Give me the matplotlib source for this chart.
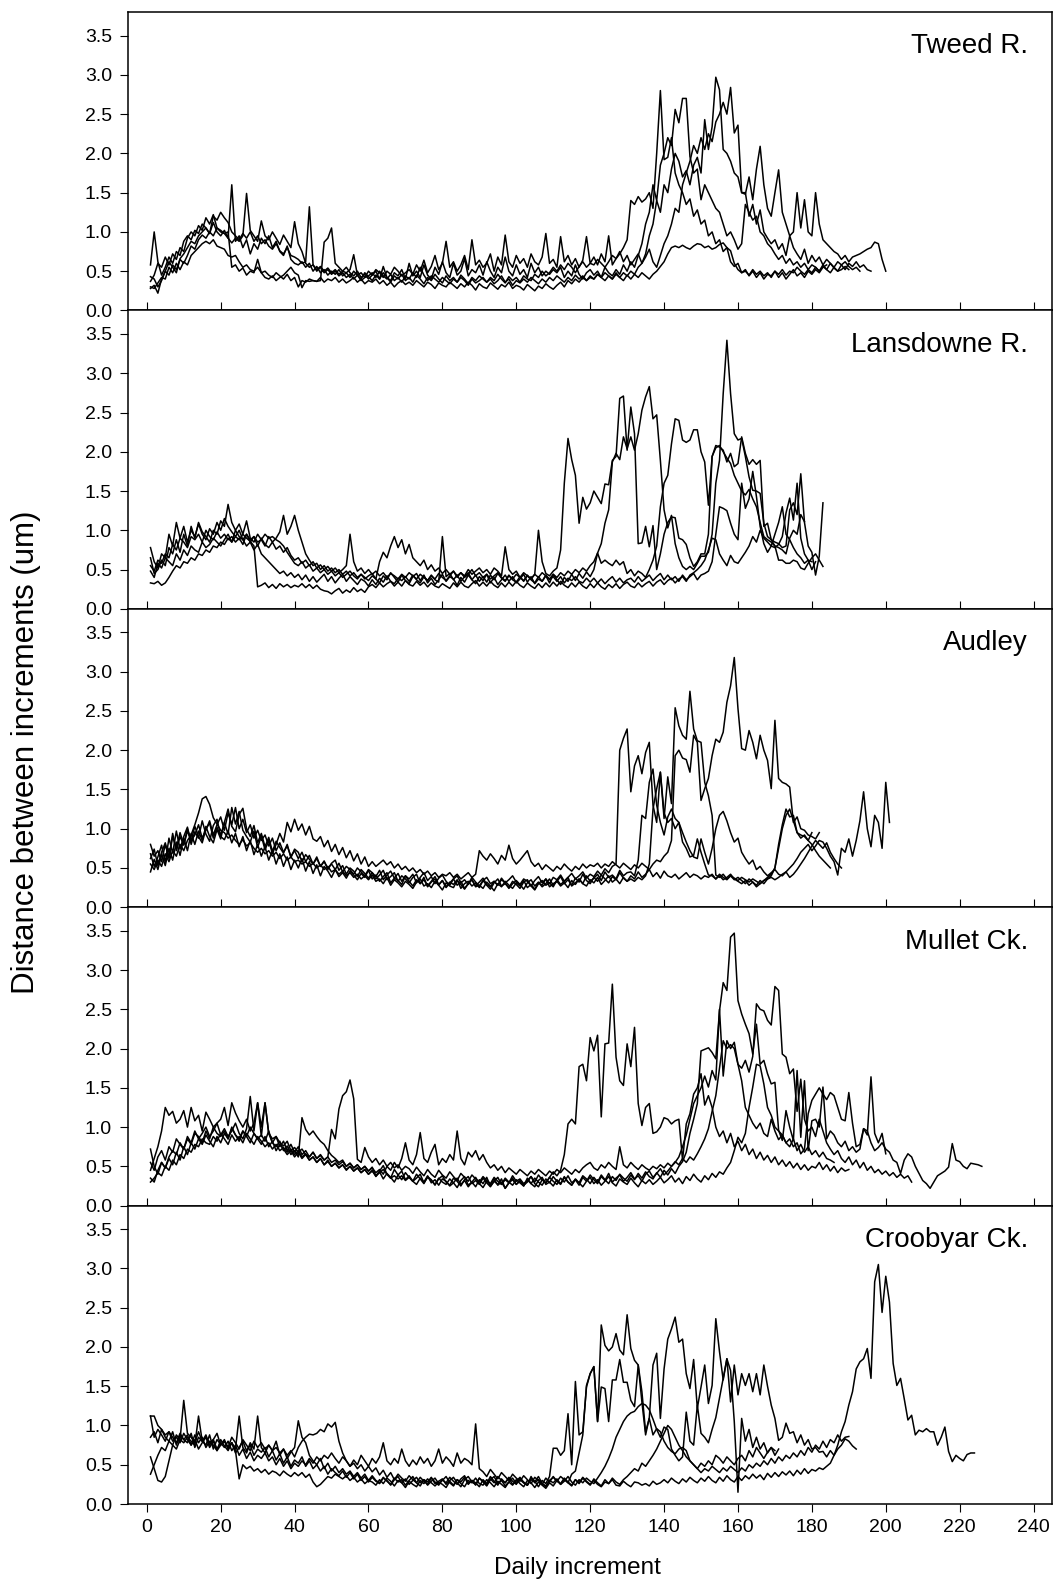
import numpy as np
import matplotlib
matplotlib.use("Agg")
import matplotlib.pyplot as plt

plt.rcParams['font.family'] = ['Liberation Sans', 'DejaVu Sans']

# distance between daily increments in hundredths of a um
# each list starts at daily increment 1

# Tweed R.
tweed_1 = [58, 100, 62, 45, 55, 68, 60, 75, 70, 88,
           95, 90, 102, 98, 110, 105, 98, 112, 100, 95,
           102, 92, 160, 88, 95, 80, 90, 72, 85, 78,
           92, 85, 95, 80, 88, 75, 70, 82, 65, 60,
           58, 62, 55, 60, 50, 56, 48, 52, 45, 50,
           46, 52, 44, 48, 42, 50, 45, 40, 48, 43,
           38, 45, 40, 48, 42, 36, 44, 40, 46, 38,
           42, 36, 45, 40, 34, 42, 38, 46, 40, 35,
           44, 38, 42, 36, 45, 40, 34, 42, 38, 44,
           40, 36, 42, 38, 46, 40, 35, 43, 38, 42,
           36, 44, 40, 38, 46, 42, 50, 44, 48, 55,
           50, 58, 52, 60, 55, 48, 56, 62, 55, 60,
           58, 65, 60, 55, 62, 70, 66, 72, 80, 90,
           140, 135, 145, 138, 142, 150, 130, 200, 280, 192,
           195, 220, 175, 160, 150, 135, 142, 120, 128, 110,
           115, 95, 100, 85, 90, 75, 80, 62, 56, 60,
           48, 52, 44, 50, 42, 48, 40, 46, 44, 50,
           42, 48, 40, 46, 52, 44, 48, 42, 50, 46,
           52, 48, 55, 58]
tweed_2 = [43, 40, 30, 38, 50, 62, 55, 48, 66, 72,
           80, 88, 85, 95, 100, 105, 98, 120, 115, 125,
           118, 112, 100, 95, 90, 98, 92, 100, 88, 95,
           85, 90, 82, 78, 85, 76, 72, 80, 70, 68,
           65, 60, 62, 132, 58, 50, 55, 48, 52, 46,
           50, 44, 48, 42, 46, 40, 45, 38, 42, 44,
           48, 42, 50, 44, 40, 46, 38, 42, 36, 44,
           40, 48, 42, 55, 45, 38, 44, 40, 36, 42,
           38, 34, 40, 36, 42, 38, 32, 40, 35, 38,
           42, 36, 40, 34, 38, 44, 36, 40, 32, 38,
           35, 40, 36, 42, 38, 34, 40, 36, 42, 38,
           44, 40, 36, 42, 38, 45, 40, 44, 38, 42,
           40, 46, 42, 48, 44, 40, 46, 42, 48, 44,
           50, 46, 55, 60, 72, 95, 110, 140, 125, 160,
           150, 180, 200, 190, 170, 178, 160, 185, 195, 175,
           243, 205, 234, 297, 281, 205, 200, 190, 175, 170,
           150, 150, 120, 135, 110, 128, 100, 92, 85, 90,
           78, 85, 70, 95, 80, 72, 65, 78, 60, 70,
           62, 68, 58, 65, 60, 55, 62, 58, 52, 60,
           56, 62, 55, 58, 52, 50]
tweed_3 = [37, 45, 60, 55, 68, 58, 72, 65, 80, 75,
           92, 100, 95, 108, 102, 118, 110, 122, 105, 100,
           98, 92, 86, 92, 88, 95, 149, 102, 95, 88,
           114, 95, 90, 100, 92, 84, 96, 88, 80, 113,
           85, 75, 60, 55, 58, 52, 56, 50, 54, 48,
           52, 46, 50, 55, 48, 44, 50, 42, 46, 40,
           45, 50, 40, 56, 42, 38, 48, 44, 52, 40,
           60, 44, 50, 42, 58, 45, 40, 55, 46, 62,
           48, 42, 60, 45, 50, 66, 44, 52, 48, 58,
           45, 62, 50, 42, 55, 48, 68, 50, 44, 58,
           46, 52, 42, 60, 48, 55, 44, 50, 46, 52,
           48, 55, 42, 50, 44, 58, 46, 40, 48, 52,
           45, 50, 42, 55, 48, 44, 52, 46, 58, 50,
           62, 55, 70, 85, 110, 125, 160, 140, 185, 200,
           220, 210, 256, 239, 270, 270, 196, 175, 180, 141,
           160, 150, 140, 130, 125, 110, 95, 100, 90, 78,
           85, 135, 125, 115, 120, 100, 95, 85, 80, 72,
           65, 70, 60, 66, 58, 62, 55, 60, 52, 58,
           55, 50, 56, 52, 60, 54, 50, 58, 62, 56,
           52, 55, 50]
tweed_4 = [30, 28, 35, 42, 40, 55, 48, 60, 52, 62,
           58, 70, 75, 80, 85, 88, 85, 90, 82, 80,
           78, 70, 68, 70, 62, 55, 58, 52, 50, 55,
           48, 50, 45, 42, 48, 44, 40, 46, 38, 42,
           30, 38, 36, 40, 38, 37, 42, 36, 40, 38,
           42, 36, 40, 35, 38, 42, 36, 40, 34, 38,
           36, 40, 34, 38, 32, 36, 30, 35, 38, 33,
           36, 32, 38, 34, 30, 36, 33, 28, 35, 32,
           30, 36, 32, 28, 34, 30, 36, 32, 26, 34,
           30, 28, 35, 31, 27, 33, 30, 36, 28, 32,
           30, 26, 33, 29, 25, 31, 28, 34, 30, 27,
           32, 36, 30, 38, 34, 40, 36, 42, 38, 44,
           40, 46, 42, 38, 44, 40, 48, 42, 38, 45,
           40, 46, 42, 48, 44, 40, 46, 50, 56, 62,
           72, 80, 82, 80, 83, 80, 78, 82, 85, 84,
           80, 82, 78, 80, 84, 86, 80, 76, 60, 52,
           48, 50, 45, 52, 46, 50, 44, 48, 42, 50,
           46, 52, 45, 50, 48, 55, 50, 46, 52, 48,
           55, 50, 58, 52, 48, 55, 50, 52, 56, 52]
tweed_5 = [28, 32, 22, 40, 50, 45, 58, 52, 65, 60,
           70, 82, 78, 90, 96, 92, 100, 95, 105, 102,
           98, 100, 55, 58, 50, 54, 45, 50, 48, 65,
           48, 42, 40, 44, 38, 42, 45, 50, 55, 48,
           45, 29, 38, 37, 38, 37, 38, 87, 92, 105,
           60, 55, 50, 48, 52, 71, 45, 48, 42, 50,
           45, 52, 48, 42, 50, 46, 55, 50, 44, 48,
           52, 46, 58, 50, 64, 48, 56, 70, 52, 60,
           88, 55, 62, 50, 58, 70, 52, 90, 58, 64,
           55, 60, 72, 50, 68, 58, 96, 62, 55, 70,
           60, 66, 55, 72, 62, 58, 68, 98, 60, 65,
           55, 94, 62, 70, 58, 66, 55, 64, 94, 60,
           68, 58, 72, 62, 95, 58, 66, 75, 62, 70,
           58, 65, 72, 60, 68, 78, 62, 55, 70, 85,
           95, 110, 130, 125, 160, 175, 190, 210, 200, 220,
           205, 225, 215, 240, 250, 265, 250, 284, 226, 236,
           150, 148, 170, 141, 180, 209, 160, 130, 120, 150,
           179, 125, 110, 95, 100, 150, 105, 141, 100, 95,
           150, 110, 90, 85, 80, 75, 72, 65, 70, 62,
           68, 70, 72, 75, 78, 80, 87, 85, 65, 50]

# Lansdowne R.
lans_1 = [78, 60, 52, 70, 65, 95, 80, 110, 90, 105,
          85, 100, 92, 108, 95, 88, 102, 95, 110, 100,
          115, 105, 98, 92, 100, 88, 95, 85, 92, 80,
          90, 82, 78, 85, 76, 80, 72, 78, 68, 62,
          65, 58, 62, 55, 60, 52, 56, 50, 54, 48,
          52, 46, 50, 55, 95, 60, 48, 52, 45, 50,
          44, 48, 42, 46, 40, 45, 42, 38, 44, 40,
          46, 42, 38, 44, 40, 36, 42, 38, 45, 40,
          36, 42, 48, 40, 46, 42, 50, 44, 48, 52,
          46, 50, 44, 52, 48, 42, 79, 50, 44, 48,
          40, 46, 42, 38, 44, 100, 60, 45, 42, 48,
          52, 75, 160, 217, 190, 170, 109, 142, 127, 135,
          150, 142, 134, 159, 158, 189, 194, 268, 271, 202,
          257, 223, 83, 84, 105, 79, 106, 50, 70, 95,
          110, 117, 116, 90, 88, 82, 65, 54, 60, 70,
          70, 95, 194, 205, 208, 200, 192, 185, 170, 160,
          150, 145, 152, 140, 130, 110, 92, 88, 85, 80,
          78, 75, 70, 90, 100, 95, 120, 111]
lans_2 = [65, 45, 50, 62, 55, 78, 70, 88, 72, 95,
          80, 105, 90, 110, 98, 92, 85, 100, 95, 112,
          105, 133, 110, 100, 108, 95, 112, 90, 85, 95,
          88, 80, 92, 85, 90, 98, 119, 95, 105, 119,
          100, 85, 70, 62, 55, 58, 50, 55, 48, 52,
          46, 50, 44, 48, 42, 46, 40, 44, 38, 42,
          45, 38, 33, 42, 37, 46, 40, 34, 43, 36,
          32, 41, 45, 36, 43, 33, 39, 31, 37, 44,
          35, 41, 38, 30, 40, 34, 43, 37, 32, 41,
          36, 44, 33, 40, 31, 37, 43, 35, 41, 33,
          38, 44, 34, 41, 32, 38, 35, 42, 33, 44,
          37, 31, 40, 35, 44, 36, 45, 39, 47, 41,
          50, 71, 83, 109, 126, 187, 198, 190, 219, 204,
          219, 202, 223, 253, 270, 283, 242, 247, 189, 126,
          103, 119, 83, 65, 54, 50, 54, 50, 58, 67,
          67, 72, 95, 160, 189, 274, 342, 274, 223, 215,
          217, 194, 168, 151, 150, 147, 109, 92, 88, 85,
          83, 78, 80, 126, 135, 120, 172, 110, 80, 72,
          43, 67, 135]
lans_3 = [55, 48, 62, 58, 70, 65, 82, 75, 90, 85,
          78, 92, 88, 95, 85, 100, 92, 88, 98, 90,
          95, 88, 92, 85, 90, 82, 95, 88, 92, 85,
          88, 95, 90, 92, 88, 85, 80, 72, 65, 58,
          55, 60, 52, 56, 48, 52, 46, 50, 44, 48,
          42, 46, 40, 44, 48, 42, 38, 44, 40, 36,
          42, 38, 60, 72, 65, 80, 92, 78, 88, 70,
          82, 65, 60, 55, 62, 50, 56, 48, 52, 45,
          50, 44, 48, 42, 46, 40, 44, 50, 42, 46,
          40, 44, 38, 42, 46, 40, 36, 42, 38, 44,
          40, 36, 42, 38, 44, 40, 46, 42, 38, 44,
          40, 46, 42, 48, 44, 50, 46, 52, 48, 55,
          60, 71, 58, 62, 58, 55, 62, 56, 60, 45,
          50, 42, 48, 45, 40, 50, 62, 80, 130, 160,
          170, 210, 242, 240, 215, 212, 215, 228, 228, 200,
          187, 132, 194, 208, 206, 202, 187, 198, 181, 185,
          219, 198, 184, 190, 184, 189, 105, 109, 88, 80,
          62, 62, 58, 58, 62, 60, 52, 50, 58, 65,
          70, 62, 54]
lans_4 = [48, 40, 58, 52, 65, 60, 55, 70, 62, 75,
          68, 80, 75, 72, 85, 78, 82, 90, 85, 80,
          88, 95, 85, 100, 92, 88, 80, 85, 75, 82,
          70, 65, 60, 55, 50, 45, 48, 42, 46, 40,
          44, 37, 43, 35, 41, 34, 39, 44, 35, 41,
          33, 39, 44, 35, 41, 36, 31, 38, 35, 29,
          37, 31, 39, 34, 42, 35, 32, 39, 36, 41,
          35, 43, 37, 33, 41, 36, 43, 37, 34, 92,
          41, 45, 37, 43, 35, 41, 46, 37, 43, 35,
          41, 34, 43, 37, 45, 39, 35, 43, 37, 34,
          41, 35, 43, 37, 33, 41, 35, 43, 37, 41,
          35, 41, 33, 39, 36, 41, 35, 33, 39, 34,
          39, 33, 38, 32, 37, 41, 34, 39, 33, 37,
          39, 34, 41, 35, 39, 43, 36, 41, 45, 37,
          43, 37, 41, 35, 43, 37, 41, 45, 37, 43,
          45, 48, 60, 95, 130, 128, 125, 109, 95, 88,
          160, 128, 140, 175, 143, 105, 83, 72, 80, 78,
          82, 92, 122, 141, 113, 160, 90, 70, 62, 50,
          60]
lans_5 = [33, 32, 35, 30, 33, 40, 48, 55, 52, 60,
          58, 65, 62, 70, 68, 75, 72, 80, 78, 85,
          82, 90, 85, 92, 88, 95, 90, 86, 80, 28,
          30, 33, 27, 31, 26, 32, 28, 31, 27, 30,
          28, 32, 27, 31, 26, 30, 25, 23, 22, 19,
          23, 26, 20, 24, 21, 27, 22, 25, 21, 28,
          31, 27, 33, 28, 32, 35, 29, 34, 29, 36,
          31, 29, 35, 30, 34, 28, 33, 29, 27, 32,
          29, 26, 33, 28, 34, 29, 27, 32, 36, 29,
          34, 29, 35, 30, 27, 33, 28, 34, 29, 35,
          30, 27, 33, 29, 26, 32, 27, 33, 28, 34,
          29, 35, 30, 27, 33, 28, 34, 29, 26, 32,
          27, 33, 28, 25, 31, 27, 32, 26, 31, 34,
          29, 27, 33, 28, 32, 35, 29, 34, 37, 31,
          36, 39, 33, 38, 41, 35, 43, 46, 50, 55,
          62, 75, 90, 88, 70, 62, 55, 68, 60, 58,
          65, 72, 80, 92, 85, 100, 90, 85, 80, 95,
          110, 130, 95, 88, 78, 70, 65, 58, 62, 60]

# Audley
aud_1 = [80, 65, 72, 58, 80, 62, 90, 75, 95, 80,
         100, 85, 92, 105, 88, 98, 110, 92, 105, 115,
         98, 120, 105, 127, 100, 112, 95, 105, 88, 98,
         85, 92, 78, 88, 72, 82, 70, 78, 65, 72,
         62, 70, 58, 66, 55, 62, 52, 58, 50, 55,
         48, 56, 45, 52, 48, 42, 50, 45, 40, 48,
         44, 39, 47, 35, 41, 46, 37, 43, 33, 40,
         36, 42, 31, 38, 44, 34, 39, 30, 37, 41,
         33, 28, 36, 40, 31, 35, 29, 38, 32, 27,
         34, 38, 30, 33, 28, 37, 31, 35, 40, 32,
         29, 36, 33, 27, 34, 39, 31, 36, 30, 38,
         35, 41, 33, 38, 43, 36, 40, 45, 37, 42,
         39, 46, 41, 49, 44, 52, 55, 200, 215, 227,
         147, 180, 193, 170, 197, 210, 130, 108, 172, 120,
         108, 113, 100, 108, 83, 75, 64, 66, 87, 70,
         55, 41, 40, 36, 42, 38, 35, 40, 37, 34,
         38, 35, 32, 36, 33, 30, 34, 38, 42, 50,
         80, 105, 125, 115, 117, 95, 92, 90, 85, 80,
         72, 65, 60, 55, 50]
aud_2 = [68, 52, 64, 79, 57, 88, 69, 97, 74, 90,
         102, 80, 96, 88, 110, 93, 84, 104, 112, 91,
         108, 125, 103, 96, 118, 126, 100, 90, 104, 82,
         94, 77, 89, 71, 84, 76, 69, 80, 63, 74,
         70, 58, 67, 61, 55, 64, 52, 59, 48, 56,
         60, 47, 53, 42, 50, 46, 39, 48, 43, 37,
         44, 36, 41, 47, 35, 39, 44, 33, 40, 36,
         31, 38, 42, 30, 35, 27, 33, 39, 29, 34,
         26, 32, 29, 35, 24, 30, 33, 27, 31, 25,
         34, 28, 23, 31, 36, 27, 30, 25, 33, 29,
         24, 32, 35, 27, 22, 30, 34, 28, 31, 26,
         35, 29, 33, 38, 27, 31, 36, 30, 40, 33,
         37, 42, 34, 45, 38, 41, 36, 47, 40, 44,
         45, 40, 60, 117, 113, 159, 176, 130, 108, 92,
         115, 125, 113, 108, 95, 83, 72, 64, 62, 87,
         70, 55, 75, 100, 117, 122, 110, 95, 83, 88,
         70, 62, 55, 60, 48, 52, 45, 40, 44, 48,
         42, 40, 45, 38, 42, 48, 55, 62, 70, 78,
         85, 80, 75, 82, 70, 62, 55, 50]
aud_3 = [55, 48, 60, 52, 68, 58, 72, 65, 80, 72,
         85, 92, 105, 120, 138, 141, 131, 114, 106, 98,
         95, 88, 92, 85, 80, 86, 78, 82, 75, 70,
         75, 68, 72, 65, 70, 62, 68, 60, 64, 58,
         60, 55, 58, 52, 56, 50, 54, 48, 52, 45,
         48, 42, 46, 40, 44, 38, 42, 36, 40, 35,
         41, 33, 36, 30, 38, 28, 35, 31, 26, 33,
         29, 24, 32, 36, 27, 30, 25, 33, 28, 22,
         31, 27, 25, 34, 29, 23, 30, 35, 26, 28,
         24, 32, 27, 21, 30, 26, 33, 28, 24, 31,
         27, 34, 25, 29, 23, 31, 28, 36, 26, 30,
         33, 27, 31, 25, 34, 29, 36, 30, 27, 35,
         31, 38, 29, 34, 40, 32, 36, 30, 38, 33,
         36, 33, 38, 35, 40, 55, 125, 151, 172, 113,
         166, 132, 254, 231, 219, 214, 275, 227, 212, 210,
         159, 142, 117, 41, 38, 42, 36, 40, 35, 38,
         34, 30, 36, 32, 28, 34, 30, 36, 40, 50,
         75, 100, 117, 125, 110, 95, 88, 92, 85, 95]
aud_4 = [45, 61, 48, 67, 53, 75, 60, 83, 66, 88,
         72, 94, 80, 97, 85, 103, 90, 82, 99, 87,
         108, 93, 127, 106, 122, 98, 90, 83, 97, 76,
         91, 73, 85, 68, 80, 94, 83, 108, 96, 112,
         98, 106, 92, 103, 87, 84, 90, 77, 85, 71,
         80, 67, 76, 63, 72, 59, 68, 55, 64, 52,
         58, 52, 56, 60, 54, 58, 50, 55, 48, 52,
         46, 50, 44, 48, 42, 46, 40, 44, 38, 42,
         40, 44, 38, 42, 36, 40, 44, 38, 42, 72,
         65, 60, 68, 62, 55, 66, 60, 79, 62, 55,
         60, 66, 72, 58, 52, 56, 48, 54, 50, 46,
         52, 48, 55, 50, 46, 52, 48, 55, 50, 54,
         52, 56, 50, 55, 52, 58, 54, 50, 56, 52,
         48, 54, 50, 56, 52, 48, 55, 60, 58, 65,
         70, 85, 193, 200, 190, 188, 172, 219, 210, 136,
         151, 164, 193, 214, 210, 223, 261, 282, 318, 253,
         202, 200, 225, 210, 189, 219, 200, 187, 151, 238,
         164, 159, 157, 153, 108, 115, 100, 98, 92, 90,
         87, 95]
aud_5 = [62, 74, 53, 70, 82, 63, 94, 72, 90, 79,
         97, 85, 103, 90, 82, 100, 107, 88, 102, 90,
         86, 97, 82, 94, 77, 90, 72, 85, 67, 80,
         65, 77, 60, 72, 55, 68, 52, 64, 48, 60,
         50, 62, 46, 58, 43, 54, 40, 52, 46, 38,
         48, 39, 44, 37, 46, 41, 35, 43, 38, 47,
         36, 41, 33, 39, 44, 31, 37, 34, 29, 40,
         33, 27, 35, 30, 38, 26, 32, 36, 28, 34,
         25, 31, 36, 28, 33, 24, 30, 35, 27, 32,
         37, 29, 26, 33, 28, 35, 31, 24, 30, 34,
         29, 23, 31, 35, 27, 32, 26, 30, 36, 28,
         33, 39, 30, 35, 28, 37, 32, 42, 34, 30,
         38, 33, 41, 36, 31, 39, 35, 44, 37, 33,
         40, 36, 45, 38, 42, 48, 39, 44, 37, 46,
         40, 38, 42, 36, 40, 44, 38, 42, 40, 36,
         40, 38, 42, 36, 40, 35, 38, 42, 36, 33,
         30, 34, 28, 32, 26, 30, 34, 36, 38, 35,
         38, 42, 45, 50, 55, 62, 70, 75, 80, 72,
         78, 85, 83, 75, 65, 58, 41, 75, 70, 87,
         65, 85, 110, 147, 100, 77, 117, 108, 75, 159,
         108]

# Mullet Ck.
mul_1 = [35, 30, 45, 55, 48, 62, 70, 65, 80, 72,
         85, 78, 92, 88, 80, 95, 85, 100, 92, 88,
         95, 85, 100, 90, 82, 95, 88, 80, 92, 85,
         78, 88, 75, 82, 70, 78, 72, 65, 70, 62,
         68, 60, 65, 58, 62, 55, 60, 52, 58, 50,
         54, 48, 52, 46, 50, 44, 48, 42, 46, 40,
         45, 37, 43, 34, 41, 36, 30, 39, 44, 33,
         38, 31, 35, 40, 29, 36, 32, 27, 34, 38,
         30, 26, 35, 31, 25, 33, 37, 28, 32, 27,
         35, 29, 24, 31, 36, 27, 33, 29, 38, 31,
         34, 28, 32, 37, 30, 39, 33, 29, 36, 43,
         38, 45, 65, 104, 110, 104, 177, 180, 159, 214,
         197, 217, 113, 206, 207, 282, 189, 159, 153, 206,
         177, 227, 130, 102, 125, 130, 92, 94, 100, 112,
         110, 104, 108, 110, 58, 104, 117, 142, 150, 168,
         128, 140, 125, 100, 88, 95, 80, 92, 75, 82,
         70, 78, 65, 72, 60, 68, 58, 64, 55, 62,
         52, 58, 50, 56, 48, 54, 46, 52, 45, 50,
         48, 55, 46, 52, 44, 50, 42, 48, 44, 46]
mul_2 = [55, 45, 62, 70, 58, 75, 68, 85, 78, 72,
         88, 80, 95, 85, 92, 100, 88, 95, 105, 90,
         98, 88, 95, 105, 92, 85, 98, 139, 95, 131,
         88, 131, 92, 80, 88, 75, 82, 70, 78, 68,
         75, 65, 70, 62, 68, 60, 65, 58, 62, 97,
         85, 123, 140, 145, 160, 136, 59, 55, 74, 62,
         55, 60, 52, 58, 50, 55, 48, 52, 45, 50,
         47, 41, 49, 43, 38, 46, 40, 36, 45, 39,
         35, 43, 37, 32, 41, 36, 31, 39, 34, 30,
         37, 32, 28, 36, 31, 27, 35, 30, 26, 33,
         29, 25, 33, 28, 35, 30, 26, 34, 29, 37,
         31, 27, 36, 30, 26, 33, 29, 38, 34, 28,
         36, 30, 39, 33, 28, 37, 32, 40, 35, 31,
         39, 33, 41, 35, 43, 37, 34, 42, 36, 45,
         39, 47, 41, 50, 56, 68, 92, 110, 130, 197,
         199, 201, 195, 187, 248, 284, 274, 342, 347, 261,
         244, 231, 219, 193, 231, 180, 185, 168, 155, 157,
         96, 83, 121, 100, 83, 172, 87, 159, 70, 108,
         110, 100, 151, 85, 95, 90, 80, 75, 82, 70,
         75, 68, 72, 98, 90, 164, 92, 80, 92, 66]
mul_3 = [72, 50, 40, 55, 48, 60, 52, 68, 58, 75,
         65, 80, 72, 85, 78, 90, 82, 75, 88, 80,
         92, 85, 98, 90, 85, 95, 88, 100, 92, 85,
         90, 82, 95, 80, 75, 82, 70, 76, 65, 70,
         62, 112, 97, 90, 95, 88, 82, 78, 70, 64,
         60, 55, 58, 50, 54, 48, 52, 46, 50, 44,
         48, 42, 46, 40, 50, 45, 55, 48, 60, 80,
         58, 52, 65, 93, 60, 55, 68, 78, 52, 60,
         55, 65, 58, 95, 60, 52, 68, 62, 70, 58,
         65, 55, 48, 52, 45, 50, 42, 48, 44, 40,
         46, 42, 38, 44, 40, 46, 42, 38, 44, 40,
         46, 42, 48, 44, 40, 46, 42, 48, 52, 55,
         48, 45, 52, 48, 55, 50, 46, 75, 52, 48,
         55, 50, 46, 52, 48, 45, 50, 47, 52, 48,
         54, 50, 56, 52, 60, 55, 62, 58, 66, 75,
         85, 98, 120, 140, 175, 210, 200, 205, 200, 180,
         175, 185, 170, 190, 257, 250, 248, 236, 230, 279,
         274, 193, 189, 168, 174, 120, 161, 110, 95, 100,
         88, 110, 95, 80, 72, 65, 70, 60, 55, 62,
         52, 58, 48, 55, 45, 50, 42, 46, 40, 44,
         38, 42, 36, 40, 35, 38, 30]
mul_4 = [45, 60, 75, 95, 125, 115, 120, 105, 110, 121,
         100, 125, 108, 115, 95, 119, 110, 100, 105, 110,
         125, 102, 131, 118, 108, 100, 110, 95, 105, 131,
         100, 131, 92, 85, 88, 80, 76, 82, 70, 74,
         68, 72, 65, 62, 68, 60, 64, 58, 62, 55,
         58, 52, 56, 50, 54, 48, 52, 46, 50, 44,
         49, 38, 44, 51, 40, 35, 46, 39, 33, 42,
         36, 31, 40, 34, 28, 37, 33, 26, 35, 30,
         27, 34, 29, 23, 32, 37, 26, 30, 24, 33,
         28, 36, 25, 31, 27, 34, 22, 29, 35, 27,
         32, 26, 30, 37, 28, 24, 33, 29, 36, 31,
         27, 35, 30, 38, 29, 33, 26, 36, 31, 39,
         33, 28, 37, 32, 41, 30, 35, 39, 31, 36,
         42, 34, 38, 31, 40, 44, 36, 41, 47, 39,
         44, 50, 55, 62, 75, 90, 110, 130, 140, 150,
         165, 151, 172, 160, 250, 165, 210, 200, 208, 180,
         159, 125, 115, 105, 98, 105, 92, 88, 110, 95,
         84, 90, 80, 75, 85, 70, 78, 68, 75, 65,
         70, 62, 68, 60, 58, 55]
mul_5 = [30, 35, 42, 38, 50, 45, 58, 52, 65, 60,
         72, 68, 78, 75, 85, 80, 78, 88, 82, 92,
         85, 78, 90, 82, 88, 80, 92, 85, 78, 88,
         82, 75, 80, 72, 78, 70, 74, 68, 72, 65,
         70, 62, 66, 58, 62, 55, 60, 52, 56, 50,
         54, 48, 52, 45, 50, 44, 48, 42, 46, 40,
         44, 38, 42, 46, 40, 35, 38, 34, 38, 32,
         36, 31, 27, 35, 30, 38, 29, 33, 26, 34,
         31, 25, 29, 35, 27, 32, 24, 30, 36, 28,
         23, 31, 27, 34, 26, 30, 22, 29, 33, 27,
         31, 25, 35, 28, 24, 32, 36, 27, 30, 25,
         33, 28, 37, 30, 26, 34, 29, 24, 31, 36,
         28, 33, 26, 31, 37, 29, 25, 34, 30, 27,
         35, 29, 24, 32, 28, 33, 27, 31, 36, 29,
         33, 38, 30, 35, 28, 37, 32, 40, 34, 30,
         38, 33, 41, 36, 43, 40, 48, 55, 70, 87,
         80, 92, 125, 151, 180, 178, 155, 125, 115, 100,
         95, 90, 80, 85, 75, 80, 66, 72, 117, 134,
         142, 150, 142, 135, 144, 140, 125, 110, 108, 144,
         105, 75, 78, 98, 95, 80, 70, 74, 80, 72,
         68, 58, 55, 41, 58, 66, 62, 50, 41, 32,
         28, 22, 30, 38, 41, 44, 49, 79, 58, 56,
         50, 47, 54, 53, 52, 50]

# Croobyar Ck.
croo_1 = [112, 112, 100, 95, 88, 92, 80, 85, 78, 90,
          82, 75, 88, 78, 85, 72, 80, 75, 68, 82,
          74, 68, 78, 70, 112, 72, 65, 78, 70, 112,
          72, 65, 75, 68, 80, 62, 70, 58, 66, 72,
          106, 85, 78, 62, 55, 50, 58, 45, 52, 42,
          48, 40, 45, 38, 42, 35, 40, 33, 38, 30,
          36, 30, 27, 34, 29, 25, 33, 28, 31, 24,
          30, 35, 27, 23, 31, 28, 34, 26, 29, 32,
          25, 30, 34, 27, 22, 31, 35, 28, 25, 33,
          29, 24, 32, 27, 35, 30, 23, 28, 33, 26,
          31, 27, 24, 33, 29, 22, 30, 26, 35, 71,
          71, 62, 68, 115, 50, 156, 88, 92, 149, 166,
          175, 105, 228, 202, 195, 200, 217, 196, 190, 241,
          198, 183, 177, 143, 92, 109, 88, 96, 92, 80,
          72, 67, 64, 70, 72, 68, 55, 50, 45, 52,
          48, 55, 50, 62, 58, 52, 60, 55, 50, 58,
          62, 55, 68, 60, 72, 65, 58, 66, 72, 62,
          70]
croo_2 = [112, 85, 95, 88, 80, 92, 85, 78, 90, 82,
          88, 75, 82, 70, 78, 85, 72, 80, 68, 75,
          82, 70, 78, 65, 72, 80, 68, 75, 62, 70,
          66, 72, 60, 68, 56, 64, 52, 60, 48, 56,
          52, 60, 48, 55, 45, 50, 42, 48, 38, 45,
          40, 36, 42, 34, 40, 32, 38, 30, 35, 28,
          34, 29, 26, 33, 30, 24, 31, 35, 27, 32,
          25, 30, 34, 27, 31, 24, 29, 33, 26, 30,
          35, 27, 23, 31, 28, 34, 25, 30, 27, 22,
          31, 26, 35, 29, 24, 32, 27, 34, 29, 25,
          33, 28, 24, 35, 27, 31, 26, 22, 30, 34,
          29, 35, 31, 27, 38, 42, 65, 88, 151, 166,
          175, 105, 149, 147, 105, 158, 158, 184, 155, 155,
          132, 124, 177, 130, 88, 110, 177, 192, 109, 172,
          210, 223, 238, 206, 210, 166, 147, 184, 122, 149,
          177, 128, 151, 236, 194, 158, 185, 130, 177, 139,
          166, 151, 166, 143, 166, 139, 177, 150, 126, 109,
          81, 85, 103, 90, 92, 78, 88, 75, 82, 70,
          72, 66, 67, 60, 68, 62, 70, 75, 83, 80,
          74, 70]
croo_3 = [60, 45, 30, 28, 35, 55, 75, 70, 82, 78,
          85, 80, 75, 112, 80, 85, 78, 82, 90, 75,
          80, 72, 85, 78, 70, 82, 75, 68, 80, 72,
          78, 70, 75, 68, 72, 65, 70, 62, 68, 60,
          72, 80, 85, 89, 88, 90, 95, 92, 102, 98,
          104, 80, 65, 55, 48, 52, 45, 50, 42, 48,
          41, 46, 37, 43, 34, 40, 31, 38, 33, 29,
          36, 31, 27, 34, 29, 25, 33, 28, 24, 31,
          27, 34, 29, 25, 32, 36, 27, 30, 24, 33,
          28, 23, 31, 35, 26, 30, 27, 33, 25, 29,
          34, 27, 24, 31, 28, 35, 26, 23, 30, 27,
          32, 25, 29, 35, 28, 24, 31, 27, 33, 29,
          26, 33, 40, 48, 58, 70, 85, 95, 105, 112,
          116, 118, 124, 128, 126, 120, 108, 95, 85, 98,
          95, 70, 62, 55, 60, 117, 80, 75, 126, 90,
          85, 78, 95, 110, 135, 160, 185, 170, 105, 15,
          109, 80, 95, 72, 85, 70, 78, 65, 72, 68]
croo_4 = [38, 50, 62, 72, 68, 80, 75, 88, 82, 132,
          90, 85, 78, 92, 80, 88, 75, 82, 70, 78,
          72, 80, 68, 75, 62, 70, 58, 66, 55, 62,
          58, 65, 55, 60, 50, 58, 48, 55, 45, 52,
          48, 55, 50, 58, 52, 60, 55, 62, 58, 65,
          58, 52, 60, 55, 48, 56, 50, 62, 55, 48,
          58, 52, 60, 78, 55, 50, 58, 52, 70, 55,
          48, 56, 50, 60, 52, 58, 48, 55, 70, 52,
          60, 55, 48, 65, 52, 58, 55, 50, 102, 45,
          41, 35, 44, 38, 32, 40, 35, 30, 38, 33,
          29, 36, 31, 26, 34, 30, 25, 33, 28, 35,
          29, 26, 33, 28, 24, 31, 27, 34, 29, 25,
          30, 25, 22, 28, 26, 31, 24, 23, 29, 25,
          22, 28, 27, 24, 26, 23, 29, 25, 27, 31,
          27, 33, 29, 26, 32, 28, 34, 30, 27, 33,
          29, 35, 30, 27, 34, 29, 36, 31, 28, 35,
          30, 36, 32, 38, 33, 37, 31, 39, 34, 40,
          35, 41, 37, 42, 36, 43, 38, 45, 39, 44,
          42, 46, 44, 48, 52, 62, 75, 92, 105, 126,
          143, 172, 181, 185, 198, 160, 283, 305, 244, 290,
          257, 179, 151, 160, 134, 107, 113, 88, 94, 92,
          96, 92, 92, 75, 85, 98, 67, 54, 62, 58,
          55, 63, 65, 65]
croo_5 = [85, 92, 78, 95, 85, 80, 92, 75, 88, 82,
          78, 90, 72, 85, 80, 75, 88, 70, 82, 76,
          80, 72, 78, 68, 32, 50, 45, 48, 42, 45,
          40, 44, 38, 42, 40, 36, 42, 38, 35, 40,
          36, 40, 34, 38, 28, 22, 25, 30, 35, 33,
          38, 35, 32, 36, 30, 34, 28, 32, 26, 30,
          28, 24, 31, 26, 33, 29, 23, 30, 27, 21,
          29, 25, 22, 30, 26, 32, 27, 23, 28, 25,
          21, 29, 24, 31, 26, 22, 30, 27, 33, 26,
          24, 31, 27, 22, 29, 25, 21, 28, 24, 31,
          26, 22, 30, 27, 21, 28, 24, 20, 27, 23,
          30, 25, 32, 27, 23, 31, 26, 33, 28, 24,
          32, 27, 23, 31, 26, 33, 28, 25, 31, 35,
          40, 45, 42, 52, 48, 55, 62, 70, 80, 90,
          100, 95, 85, 75, 68, 60, 55, 50, 45, 40,
          45, 42, 48, 44, 40, 46, 42, 48, 44, 40,
          46, 42, 50, 46, 52, 48, 55, 50, 58, 52,
          60, 55, 62, 58, 65, 60, 68, 62, 72, 66,
          75, 70, 80, 72, 82, 78, 88, 80, 85, 86]

site_names = ["Tweed R.", "Lansdowne R.", "Audley", "Mullet Ck.", "Croobyar Ck."]
site_series = [
    [tweed_1, tweed_2, tweed_3, tweed_4, tweed_5],
    [lans_1, lans_2, lans_3, lans_4, lans_5],
    [aud_1, aud_2, aud_3, aud_4, aud_5],
    [mul_1, mul_2, mul_3, mul_4, mul_5],
    [croo_1, croo_2, croo_3, croo_4, croo_5],
]

y_ticks = [0.0, 0.5, 1.0, 1.5, 2.0, 2.5, 3.0, 3.5]
x_ticks = [0, 20, 40, 60, 80, 100, 120, 140, 160, 180, 200, 220, 240]

fig, axes = plt.subplots(5, 1, figsize=(10.57, 15.85), dpi=100, sharex=True)
fig.subplots_adjust(left=0.1214, right=0.9953, top=0.9924, bottom=0.0511, hspace=0)

for i, (ax, name, series) in enumerate(zip(axes, site_names, site_series)):
    for s in series:
        vals = np.array(s) / 100.0
        days = np.arange(1, len(vals) + 1)
        ax.plot(days, vals, color='black', lw=1.1)
    ax.set_xlim(-5, 245)
    ax.set_ylim(0, 3.8)
    ax.set_yticks(y_ticks)
    ax.set_yticklabels([f"{t:.1f}" for t in y_ticks])
    ax.text(0.974, 0.885, name, transform=ax.transAxes, ha='right', va='center', fontsize=20)
    last = (i == len(axes) - 1)
    ax.tick_params(axis='y', direction='out', length=5.8, width=0.8, labelsize=14, pad=6)
    ax.tick_params(axis='x', direction='out' if last else 'in', length=5.8, width=0.8,
                   labelsize=14, pad=5, labelbottom=last)
    for sp in ax.spines.values():
        sp.set_linewidth(1.1)

axes[-1].set_xticks(x_ticks)

fig.text(0.546, 0.0105, "Daily increment", ha='center', va='center', fontsize=17.5)
fig.text(0.025, 0.5256, "Distance between increments (um)", rotation=90,
         ha='center', va='center', fontsize=22.5)

fig.savefig("out.png", dpi=100)
